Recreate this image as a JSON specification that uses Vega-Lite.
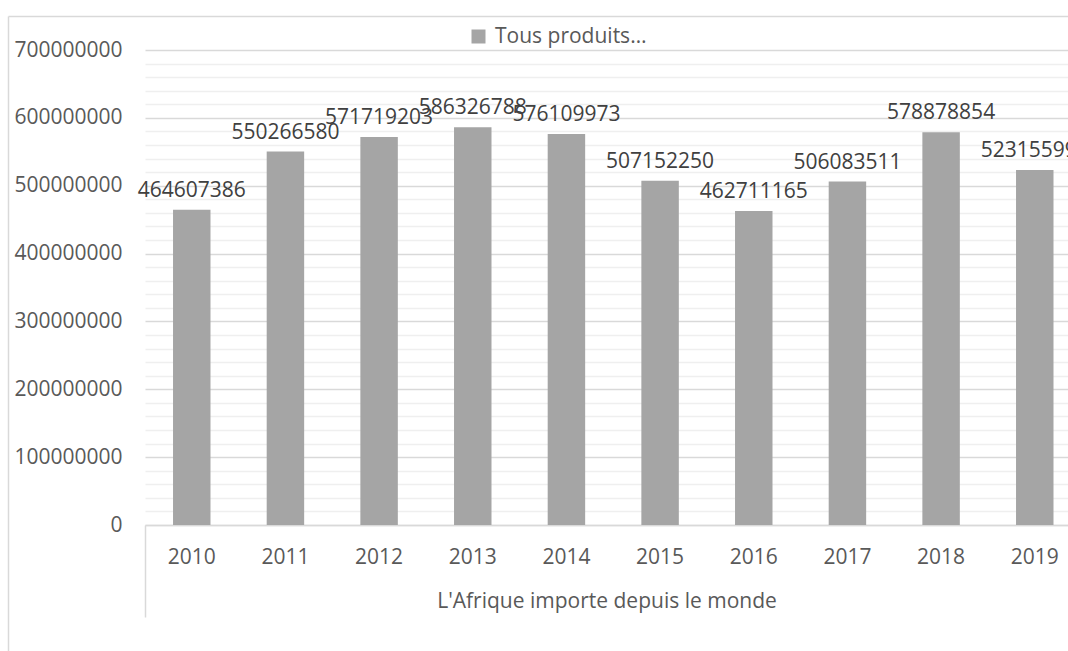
{
  "$schema": "https://vega.github.io/schema/vega-lite/v6.json",
  "width": 923,
  "height": 475,
  "autosize": {"type": "none"},
  "padding": {"left": 145, "top": 50, "right": 0, "bottom": 126},
  "background": "white",
  "config": {
    "view": {"stroke": null},
    "font": "Open Sans",
    "axis": {"labelFont": "Open Sans", "titleFont": "Open Sans"},
    "legend": {"labelFont": "Open Sans"}
  },
  "data": {
    "values": [
      {"annee": "2010", "valeur": 464607386, "serie": "Tous produits…"},
      {"annee": "2011", "valeur": 550266580, "serie": "Tous produits…"},
      {"annee": "2012", "valeur": 571719203, "serie": "Tous produits…"},
      {"annee": "2013", "valeur": 586326788, "serie": "Tous produits…"},
      {"annee": "2014", "valeur": 576109973, "serie": "Tous produits…"},
      {"annee": "2015", "valeur": 507152250, "serie": "Tous produits…"},
      {"annee": "2016", "valeur": 462711165, "serie": "Tous produits…"},
      {"annee": "2017", "valeur": 506083511, "serie": "Tous produits…"},
      {"annee": "2018", "valeur": 578878854, "serie": "Tous produits…"},
      {"annee": "2019", "valeur": 523155995, "serie": "Tous produits…"}
    ]
  },
  "layer": [
    {
      "mark": {"type": "bar", "color": "#a5a5a5"},
      "encoding": {
        "x": {
          "field": "annee", "type": "ordinal",
          "scale": {"paddingInner": 0.6, "paddingOuter": 0.227, "align": 0.659},
          "axis": {
            "orient": "bottom", "title": "L'Afrique importe depuis le monde",
            "labelAngle": 0, "ticks": false, "tickSize": 0,
            "domain": true, "domainColor": "#d9d9d9", "domainWidth": 1.5,
            "labelFontSize": 21, "labelColor": "#595959", "labelPadding": 21,
            "titleFontSize": 21, "titleFontWeight": "normal", "titleColor": "#595959", "titlePadding": 23,
            "grid": false
          }
        },
        "y": {
          "field": "valeur", "type": "quantitative",
          "scale": {"domain": [0, 700000000], "nice": false, "zero": true},
          "axis": {
            "orient": "left", "title": null,
            "values": [0, 100000000, 200000000, 300000000, 400000000, 500000000, 600000000, 700000000],
            "format": "d", "labelFontSize": 21, "labelColor": "#595959", "labelPadding": 23,
            "ticks": false, "domain": false,
            "grid": true, "gridColor": "#d9d9d9", "gridWidth": 1.5
          }
        },
        "color": {
          "field": "serie", "type": "nominal",
          "scale": {"range": ["#a5a5a5"]},
          "legend": {
            "orient": "none", "legendX": 323, "legendY": -24, "title": null,
            "symbolType": "square", "symbolSize": 196, "symbolStrokeWidth": 0,
            "labelFontSize": 21, "labelColor": "#595959", "labelOffset": 6,
            "direction": "horizontal"
          }
        }
      }
    },
    {
      "mark": {"type": "text", "baseline": "alphabetic", "dy": -13, "fontSize": 21, "color": "#404040", "font": "Open Sans"},
      "encoding": {
        "text": {"field": "valeur", "type": "quantitative", "format": "d"},
        "x": {
          "field": "annee", "type": "ordinal",
          "axis": {
            "orient": "top", "values": ["2010"], "labels": false, "domain": false,
            "ticks": true, "tickSize": -635, "tickOffset": -183.7, "offset": 34,
            "tickColor": "#d9d9d9", "tickWidth": 1.5, "title": null, "grid": false
          }
        },
        "y": {
          "field": "valeur", "type": "quantitative",
          "axis": {
            "orient": "left", "title": null, "labels": false, "ticks": false, "domain": false,
            "values": [20000000, 40000000, 60000000, 80000000, 120000000, 140000000, 160000000, 180000000, 220000000, 240000000, 260000000, 280000000, 320000000, 340000000, 360000000, 380000000, 420000000, 440000000, 460000000, 480000000, 520000000, 540000000, 560000000, 580000000, 620000000, 640000000, 660000000, 680000000],
            "grid": true, "gridColor": "#efefef", "gridWidth": 1.5
          }
        }
      }
    },
    {
      "mark": {"type": "bar", "opacity": 0},
      "encoding": {
        "x": {
          "field": "annee", "type": "ordinal",
          "axis": {
            "orient": "bottom", "values": ["2010"], "labels": false, "domain": false,
            "ticks": true, "tickSize": 92, "tickOffset": -46.7,
            "tickColor": "#d9d9d9", "tickWidth": 1.5, "title": null, "grid": false
          }
        },
        "y": {
          "field": "valeur", "type": "quantitative",
          "axis": {
            "orient": "left", "values": [700000000], "labels": false, "domain": false,
            "ticks": true, "tickSize": -1060, "tickOffset": -34, "offset": 137,
            "tickColor": "#d9d9d9", "tickWidth": 1.5, "title": null, "grid": false
          }
        }
      }
    }
  ],
  "resolve": {"axis": {"x": "independent", "y": "independent"}}
}
